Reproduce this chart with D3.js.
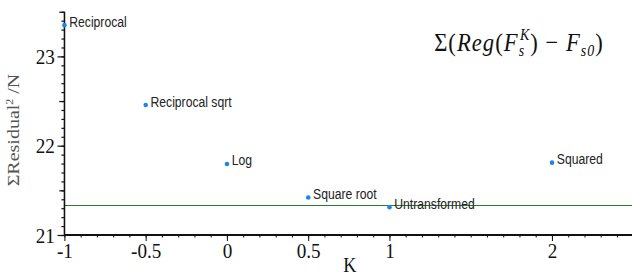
<!DOCTYPE html>
<html lang="en">
<head>
  <meta charset="UTF-8">
  <title>Residual vs K</title>
  <script src="https://d3js.org/d3.v7.min.js"></script>
  <style>
    body { margin: 0; background: #fff; overflow: hidden; }
    svg { display: block; }
  </style>
</head>
<body>
  <script>
    // data
    const names = ['Reciprocal', 'Reciprocal sqrt', 'Log', 'Square root', 'Untransformed', 'Squared'];
    const kValues = [-1, -0.5, 0, 0.5, 1, 2];
    const residuals = [23.35, 22.455, 21.795, 21.42, 21.31, 21.81];
    const refLevel = 21.335;
    const xTickLabels = [-1, -0.5, 0, 0.5, 1, 2];
    const yTickLabels = [21, 22, 23];

    // the original is squeezed sideways, so draw wider and squash it
    const squash = 0.87;
    const width = 632, height = 277;
    const innerW = width / squash;

    const svg = d3.select("body")
      .append("svg")
      .attr("width", width)
      .attr("height", height)
      .attr("viewBox", `0 0 ${innerW} ${height}`)
      .attr("preserveAspectRatio", "none");

    const x = d3.scaleLinear().domain([-1, 2.5]).range([74.1, 74.1 + 3.5 * 186.8]);
    const y = d3.scaleLinear().domain([21, 23.5]).range([235, 11.75]);

    const serif = "'Liberation Serif', 'Times New Roman', serif";
    const sans = "'Liberation Sans', Arial, sans-serif";

    // reference line
    svg.append("line")
      .attr("x1", x(-1)).attr("x2", innerW)
      .attr("y1", Math.round(y(refLevel)) + 0.5).attr("y2", Math.round(y(refLevel)) + 0.5)
      .attr("stroke", "#1f701f").attr("stroke-width", 1);

    // minor ticks
    const yMinor = d3.range(21, 23.51, 0.1).map(d => +d.toFixed(1));
    const xMinor = d3.range(-1, 2.51, 0.1).map(d => +d.toFixed(1));

    svg.append("g").attr("transform", `translate(${x(-1)},0)`)
      .call(d3.axisLeft(y).tickValues(yMinor).tickSize(3.5).tickFormat(""))
      .call(g => g.select(".domain").remove());
    svg.append("g").attr("transform", `translate(${x(-1)},0)`)
      .call(d3.axisLeft(y).tickValues([21.5, 22.5, 23.5]).tickSize(6).tickFormat(""))
      .call(g => g.select(".domain").remove());
    svg.append("g").attr("transform", `translate(0,${y(21)})`)
      .call(d3.axisBottom(x).tickValues(xMinor).tickSize(2.5).tickFormat(""))
      .call(g => g.select(".domain").remove());

    // major axes
    const yAxis = svg.append("g").attr("transform", `translate(${x(-1)},0)`)
      .call(d3.axisLeft(y).tickValues(yTickLabels).tickSize(8).tickPadding(3).tickFormat(d3.format("d")));
    const xAxis = svg.append("g").attr("transform", `translate(0,${y(21)})`)
      .call(d3.axisBottom(x).tickValues(xTickLabels).tickSize(6).tickFormat(d => d));

    svg.selectAll(".tick line").attr("stroke", "#111").attr("stroke-width", 1.2);
    [yAxis, xAxis].forEach(g => {
      g.select(".domain").attr("stroke", "#111").attr("stroke-width", 2);
      g.selectAll("text").attr("font-family", serif).attr("font-size", 22).attr("fill", "#111");
    });
    yAxis.select(".domain").attr("d", `M0,${y(23.5)}V${y(21)}`).attr("stroke-width", 1.8);
    xAxis.select(".domain").attr("d", `M${x(-1)},0H${innerW}`);
    xAxis.selectAll("text").attr("y", 23).attr("dy", 0);

    // axis titles
    svg.append("text")
      .attr("transform", `translate(${21.5},${130}) rotate(-90)`)
      .attr("text-anchor", "middle")
      .attr("font-family", serif).attr("font-size", 20).attr("fill", "#555")
      .html('ΣResidual<tspan dy="-7" font-size="12">2</tspan><tspan dy="7"> /N</tspan>');

    svg.append("text")
      .attr("x", 402).attr("y", 272)
      .attr("text-anchor", "middle")
      .attr("font-family", serif).attr("font-size", 21).attr("fill", "#111")
      .text("K");

    // formula
    const f = svg.append("text")
      .attr("x", 499).attr("y", 51)
      .attr("font-family", serif).attr("font-size", 26).attr("fill", "#111")
      .attr("letter-spacing", 1.2);
    f.html(
      'Σ(<tspan font-style="italic">Reg</tspan>(<tspan font-style="italic">F</tspan>' +
      '<tspan font-style="italic" font-size="16" dy="5">s</tspan>' +
      '<tspan font-style="italic" font-size="16" dx="-6" dy="-16">K</tspan>' +
      '<tspan dy="11">) − </tspan><tspan font-style="italic">F</tspan>' +
      '<tspan font-style="italic" font-size="16" dy="5">s0</tspan><tspan dy="-5">)</tspan>'
    );

    // points and labels
    const pts = names.map((n, i) => ({ name: n, k: kValues[i], r: residuals[i] }));

    svg.selectAll("ellipse.pt")
      .data(pts).enter().append("ellipse")
      .attr("class", "pt")
      .attr("cx", d => x(d.k)).attr("cy", d => y(d.r))
      .attr("rx", 2.3 / squash).attr("ry", 2.3)
      .attr("fill", "#1a86f0");

    svg.selectAll("text.lbl")
      .data(pts).enter().append("text")
      .attr("class", "lbl")
      .attr("x", d => x(d.k) + 5.5).attr("y", d => y(d.r) + 1.5)
      .attr("font-family", sans).attr("font-size", 14).attr("fill", "#222")
      .text(d => d.name);
  </script>
</body>
</html>
